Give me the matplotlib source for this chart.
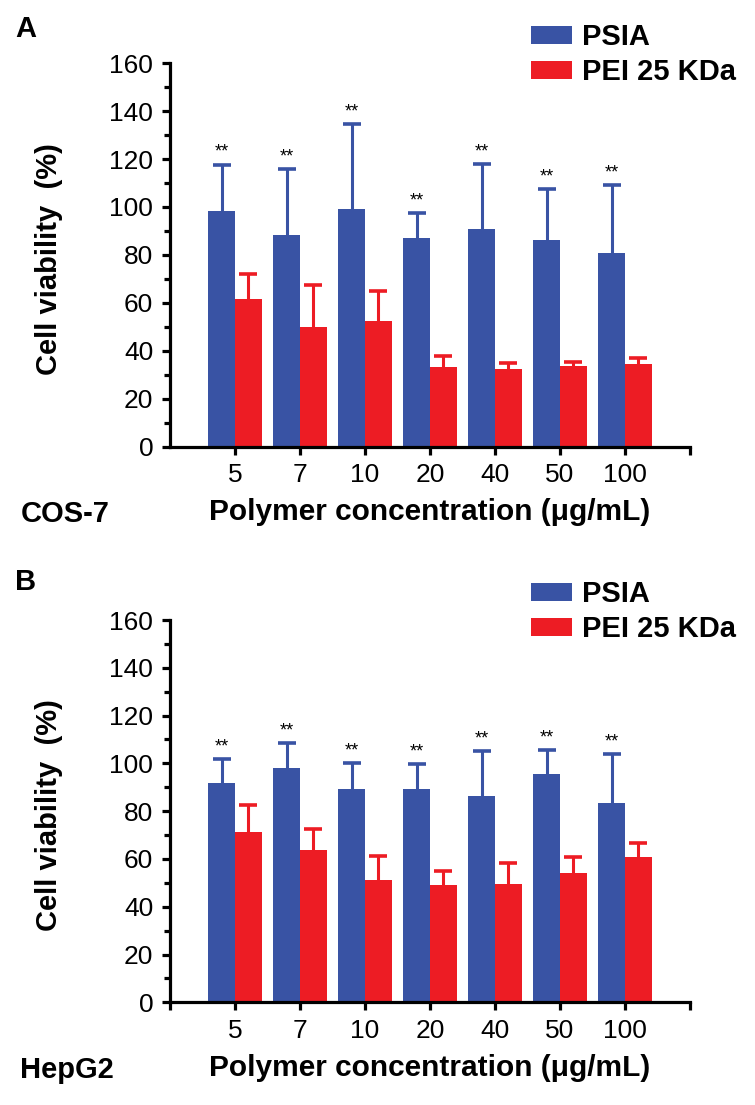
import matplotlib
matplotlib.use("Agg")
import matplotlib.pyplot as plt
import numpy as np

plt.rcParams["font.family"] = ["Liberation Sans", "DejaVu Sans"]

concentrations = ["5", "7", "10", "20", "40", "50", "100"]

# panel A, COS-7
psia_a = [98.3, 88.2, 99.3, 87.2, 90.7, 86.1, 81.0]
psia_a_err = [19.4, 27.6, 35.4, 10.3, 27.2, 21.3, 28.0]
pei_a = [61.5, 50.0, 52.6, 33.2, 32.6, 33.8, 34.6]
pei_a_err = [10.5, 17.5, 12.3, 4.6, 2.1, 1.6, 2.2]

# panel B, HepG2
psia_b = [91.9, 97.9, 89.1, 89.4, 86.4, 95.6, 83.5]
psia_b_err = [9.8, 10.7, 11.2, 10.2, 18.6, 9.8, 20.3]
pei_b = [71.1, 63.7, 51.3, 49.1, 49.4, 54.0, 60.7]
pei_b_err = [11.3, 8.7, 9.9, 5.8, 9.0, 6.8, 6.1]

blue = "#3953a4"
red = "#ed1c24"

fig = plt.figure(figsize=(7.55, 11.05), dpi=100)


def upper_errorbar(ax, xs, vals, errs, color):
    eb = ax.errorbar(xs, vals, yerr=[np.zeros(len(vals)), errs], fmt="none",
                     ecolor=color, elinewidth=2.2, capsize=6.5, capthick=2.6, zorder=1)
    # hide the cap at the bar top, keep only the upper one
    eb[1][0].set_visible(False)


def panel(rect, psia, psia_err, pei, pei_err, letter, letter_y, cell, leg_y, zero_tick):
    ax = fig.add_axes(rect)
    x = np.arange(1, len(concentrations) + 1)
    w = 0.41
    ax.bar(x - w / 2, psia, w, color=blue, label="PSIA", zorder=2)
    ax.bar(x + w / 2, pei, w, color=red, label="PEI 25 KDa", zorder=2)
    upper_errorbar(ax, x - w / 2, psia, psia_err, blue)
    upper_errorbar(ax, x + w / 2, pei, pei_err, red)
    for xi, v, e in zip(x - w / 2, psia, psia_err):
        ax.text(xi, v + e + 1.5, "**", ha="center", va="bottom", fontsize=13)

    ax.set_xlim(0, 8)
    ax.set_ylim(0, 160)
    ticks = list(x) + [8]
    labels = concentrations + [""]
    if zero_tick:
        ticks = [0] + ticks
        labels = [""] + labels
    ax.set_xticks(ticks)
    ax.set_xticklabels(labels)
    ax.set_yticks(range(0, 161, 20))
    ax.set_yticks(range(10, 160, 20), minor=True)
    for s in ["top", "right"]:
        ax.spines[s].set_visible(False)
    for s in ["left", "bottom"]:
        ax.spines[s].set_linewidth(2.3)
    ax.tick_params(axis="both", which="major", width=2.3, length=6, labelsize=19, pad=6)
    ax.tick_params(axis="y", which="minor", width=2.3, length=4)
    ax.set_ylabel("Cell viability  (%)", fontsize=21, fontweight="bold")
    ax.set_xlabel("Polymer concentration (\u03bcg/mL)", fontsize=21.5, fontweight="bold", labelpad=8)
    ax.yaxis.set_label_coords(-0.205, 0.49)

    fig.text(0.02, letter_y, letter, fontsize=21, fontweight="bold")
    fig.text(0.027, rect[1] - 0.061, cell, fontsize=21, fontweight="bold", va="center")

    ax.legend(loc="upper left", bbox_to_anchor=(0.703, leg_y), bbox_transform=fig.transFigure,
              frameon=False, prop={"weight": "bold", "size": 21},
              handlelength=1.41, handleheight=0.55, handletextpad=0.35, labelspacing=0.25,
              borderpad=0, borderaxespad=0)
    return ax


panel([0.225, 0.5958, 0.689, 0.347], psia_a, psia_a_err, pei_a, pei_a_err,
      "A", 0.9665, "COS-7", 0.979, False)
panel([0.225, 0.0929, 0.689, 0.346], psia_b, psia_b_err, pei_b, pei_b_err,
      "B", 0.466, "HepG2", 0.475, True)

fig.savefig("out.png", dpi=100)
